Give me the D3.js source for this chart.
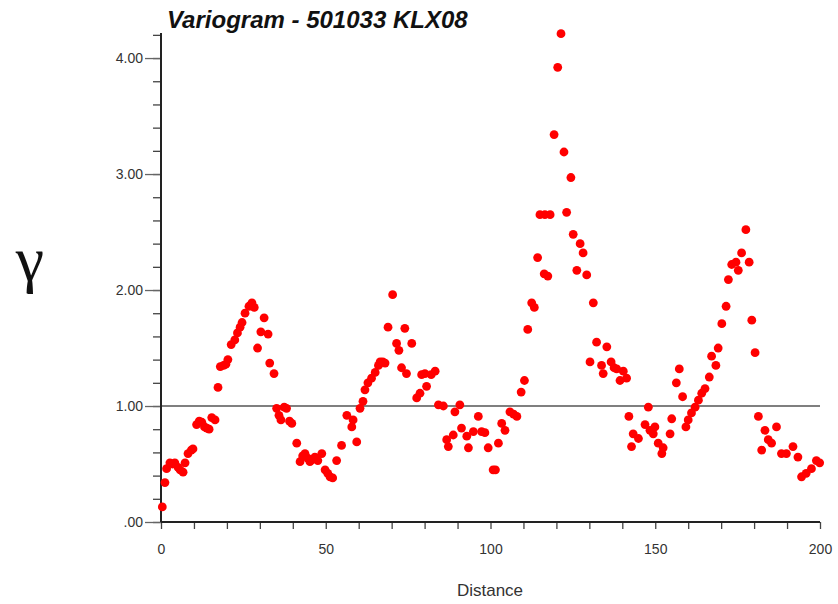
<!DOCTYPE html>
<html>
<head>
<meta charset="utf-8">
<script src="https://cdn.jsdelivr.net/npm/d3@7"></script>
<style>
  html, body { margin: 0; padding: 0; background: #fff; }
  svg { display: block; }
</style>
</head>
<body>
<svg id="chart" width="838" height="604"></svg>
<script>
// Experimental variogram: lag distance and semivariance
const lag = [
  0.4, 1.2, 1.7, 2.7, 3.5, 4.2, 5.2, 5.8, 6.7, 7.3, 8.2, 9.2, 9.7,
  10.8, 11.6, 12.4, 13.2, 13.9, 14.6, 15.4, 16.4, 17.3, 18, 19, 19.7,
  20.3, 21.3, 22.4, 23.2, 24, 24.6, 25.5, 26.7, 27.6, 28.3, 29.3,
  30.3, 31.3, 32.5, 33, 34.3, 35.1, 35.8, 36.4, 37.4, 38.1, 39, 39.7,
  41.2, 42.2, 43, 43.7, 44.5, 45.2, 46, 46.7, 47.6, 48.8, 49.8,
  50.6, 51.3, 52.1, 53.3, 54.8, 56.4, 57.9, 58.3, 59.4,
  60.4, 61.3, 61.9, 62.8, 63.9, 65, 66, 66.5, 67.3, 68, 68.9,
  70.3, 71.5, 72.2, 73, 74, 74.5, 76.1, 77.6, 78.6, 79.1,
  80.1, 80.6, 82, 83.2, 84.2, 85.7, 86.7, 87.2, 88.7, 89.2,
  90.7, 91.2, 92.8, 93.3, 94.8, 96.3, 97.3, 98.3, 99.3,
  100.8, 101.5, 102.4, 103.4, 104.4, 105.9, 107, 108, 109.3,
  110.3, 111.3, 112.5, 113.3, 114.3, 115, 116.3, 116.5, 117.4, 118.1, 119.3,
  120.4, 121.4, 122.3, 123.1, 124.4, 125.1, 126.2, 127.2, 128.1, 129.2,
  130.2, 131.2, 132.2, 133.7, 134.2, 135.3, 136.6, 137.5, 138.3, 139.3,
  140.3, 141.3, 142, 142.8, 143.3, 144.9, 146.9, 147.9, 148.4,
  149.4, 149.9, 150.9, 152, 152.4, 154.5, 155, 156.4, 157.3, 158.3, 159.3,
  160, 161, 162.1, 163.1, 164.1, 165.1, 166.4, 167.1, 168.4, 169.1,
  170.2, 171.5, 172.2, 173.2, 174.5, 175.2, 176.2, 177.5, 178.5, 179.3,
  180.3, 181.3, 182.3, 183.3, 184.3, 185.3, 186.8, 188.3, 189.8,
  191.8, 193.3, 194.4, 195.8, 197.4, 198.9, 199.9
];
const gamma = [
  0.13, 0.34, 0.46, 0.51, 0.50, 0.51, 0.47, 0.45, 0.43, 0.51, 0.59, 0.62, 0.63,
  0.84, 0.87, 0.86, 0.82, 0.81, 0.80, 0.90, 0.88, 1.16, 1.34, 1.35, 1.36,
  1.40, 1.53, 1.57, 1.63, 1.68, 1.72, 1.80, 1.86, 1.89, 1.85, 1.50,
  1.64, 1.76, 1.62, 1.37, 1.28, 0.98, 0.92, 0.88, 0.99, 0.98, 0.87, 0.85,
  0.68, 0.52, 0.57, 0.59, 0.55, 0.52, 0.54, 0.56, 0.53, 0.59, 0.45,
  0.42, 0.39, 0.38, 0.53, 0.66, 0.92, 0.82, 0.88, 0.69,
  0.98, 1.04, 1.14, 1.20, 1.24, 1.29, 1.35, 1.38, 1.38, 1.37, 1.68,
  1.96, 1.54, 1.48, 1.33, 1.67, 1.28, 1.54, 1.07, 1.11, 1.27,
  1.28, 1.17, 1.27, 1.30, 1.01, 1.00, 0.71, 0.65, 0.75, 0.95,
  1.01, 0.81, 0.74, 0.64, 0.78, 0.91, 0.78, 0.77, 0.64,
  0.45, 0.45, 0.68, 0.85, 0.79, 0.95, 0.93, 0.91, 1.12,
  1.22, 1.66, 1.89, 1.85, 2.28, 2.65, 2.14, 2.65, 2.12, 2.65, 3.34,
  3.92, 4.21, 3.19, 2.67, 2.97, 2.48, 2.17, 2.40, 2.32, 2.13,
  1.38, 1.89, 1.55, 1.35, 1.28, 1.51, 1.38, 1.33, 1.32, 1.22,
  1.30, 1.24, 0.91, 0.65, 0.76, 0.72, 0.84, 0.99, 0.79,
  0.76, 0.82, 0.68, 0.59, 0.64, 0.76, 0.89, 1.20, 1.32, 1.08, 0.82,
  0.88, 0.94, 0.99, 1.05, 1.11, 1.15, 1.25, 1.43, 1.35, 1.50,
  1.71, 1.86, 2.09, 2.22, 2.24, 2.17, 2.32, 2.52, 2.24, 1.74,
  1.46, 0.91, 0.62, 0.79, 0.71, 0.68, 0.82, 0.59, 0.59,
  0.65, 0.56, 0.39, 0.42, 0.46, 0.53, 0.51
];

const yMajor = [0, 1, 2, 3, 4];
const yMajorLabels = [".00", "1.00", "2.00", "3.00", "4.00"];
const xMajor = [0, 50, 100, 150, 200];
const sillLevel = 1.0;

const titleText = "Variogram - 501033 KLX08";
const xTitle = "Distance";
const yTitle = "γ";

const svg = d3.select("#chart");
const plot = { left: 161, right: 820, top: 33, bottom: 522 };

const x = d3.scaleLinear().domain([0, 200]).range([plot.left, plot.right]);
const y = d3.scaleLinear().domain([0, 4.216]).range([plot.bottom, plot.top]);

const axisColor = "#222";
const font = "'Liberation Sans', Arial, sans-serif";

// Minor y ticks every 0.2
const yMinor = d3.range(0, 4.21, 0.2);
svg.append("g")
  .attr("transform", `translate(${plot.left},0)`)
  .call(d3.axisLeft(y).tickValues(yMinor).tickSize(8).tickFormat(""))
  .call(g => g.select(".domain").remove())
  .call(g => g.selectAll("line").attr("stroke", "#444").attr("stroke-width", 1.3));

// Major y ticks with labels
svg.append("g")
  .attr("transform", `translate(${plot.left},0)`)
  .call(d3.axisLeft(y).tickValues(yMajor).tickSize(16).tickPadding(2)
    .tickFormat((d, i) => yMajorLabels[i]))
  .call(g => g.select(".domain").remove())
  .call(g => g.selectAll("line").attr("stroke", "#666").attr("stroke-width", 1.3))
  .call(g => g.selectAll("text")
    .attr("font-family", font).attr("font-size", 14)
    .attr("fill", "#333"));

// x axis: ticks every 10, labels every 50
svg.append("g")
  .attr("transform", `translate(0,${plot.bottom})`)
  .call(d3.axisBottom(x).tickValues(d3.range(0, 201, 10)).tickSize(7).tickPadding(15)
    .tickFormat(d => xMajor.includes(d) ? d : ""))
  .call(g => g.select(".domain").remove())
  .call(g => g.selectAll("line").attr("stroke", "#444").attr("stroke-width", 1.3))
  .call(g => g.selectAll("text")
    .attr("font-family", font).attr("font-size", 14)
    .attr("fill", "#333"));

// Sill reference line
svg.append("line")
  .attr("x1", plot.left).attr("x2", plot.right)
  .attr("y1", y(sillLevel)).attr("y2", y(sillLevel))
  .attr("stroke", "#555").attr("stroke-width", 1.5);

// Axis lines
svg.append("line")
  .attr("x1", plot.left).attr("x2", plot.left).attr("y1", plot.top).attr("y2", plot.bottom)
  .attr("stroke", axisColor).attr("stroke-width", 2);
svg.append("line")
  .attr("x1", plot.left).attr("x2", plot.right).attr("y1", plot.bottom).attr("y2", plot.bottom)
  .attr("stroke", axisColor).attr("stroke-width", 2);

// Points
svg.append("g")
  .selectAll("circle")
  .data(lag.map((d, i) => [d, gamma[i]]))
  .join("circle")
  .attr("cx", d => x(d[0]))
  .attr("cy", d => y(d[1]))
  .attr("r", 4.4)
  .attr("fill", "#ff0000");

// Titles
svg.append("text")
  .attr("x", 167).attr("y", 28)
  .attr("font-family", font).attr("font-size", 24)
  .attr("font-weight", "bold").attr("font-style", "italic")
  .attr("fill", "#111")
  .text(titleText);

svg.append("text")
  .attr("x", 490).attr("y", 596)
  .attr("text-anchor", "middle")
  .attr("font-family", font).attr("font-size", 17)
  .attr("fill", "#333")
  .text(xTitle);

svg.append("text")
  .attr("x", 30).attr("y", 280)
  .attr("text-anchor", "middle")
  .attr("font-family", "'Liberation Serif', 'DejaVu Serif', serif")
  .attr("font-size", 64)
  .attr("fill", "#111")
  .text(yTitle);
</script>
</body>
</html>
